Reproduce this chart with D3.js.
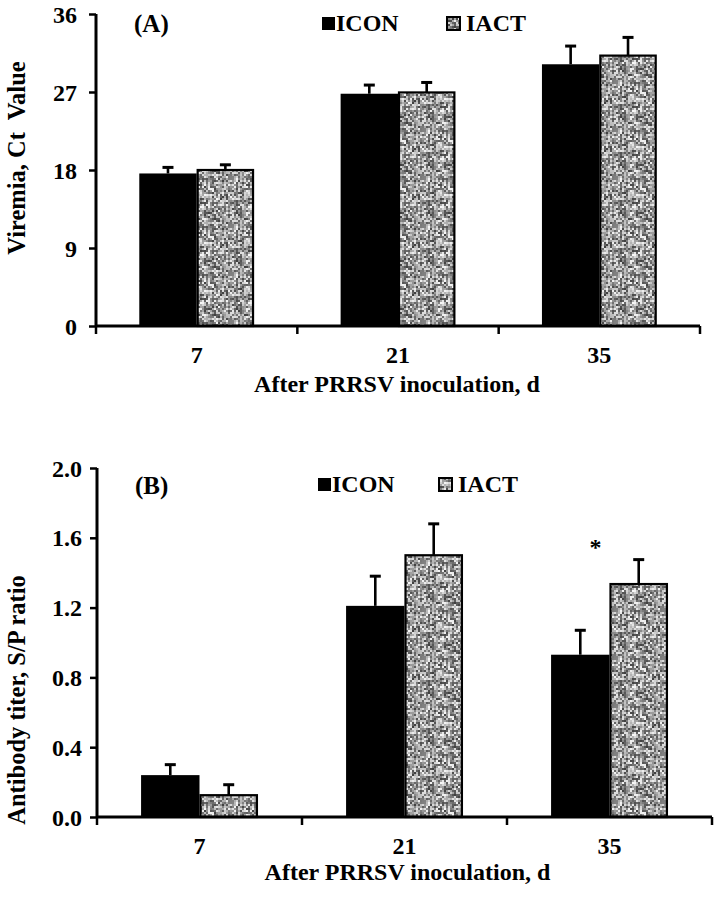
<!DOCTYPE html>
<html><head><meta charset="utf-8">
<script src="https://cdn.jsdelivr.net/npm/d3@7"></script>
<style>
body{margin:0;background:#fff}
svg{display:block}
text{font-family:"Liberation Serif","Times New Roman",serif;font-weight:bold;fill:#000}
</style>
</head><body><svg id="c" width="716" height="899"></svg>
<script>
// ---- data ----
const days = ["7", "21", "35"];
const seriesNames = ["ICON", "IACT"];
const viremiaICON = [17.6, 26.8, 30.2];
const viremiaICONse = [0.7, 1.0, 2.1];
const viremiaIACT = [18.0, 26.95, 31.2];
const viremiaIACTse = [0.6, 1.15, 2.1];
const viremiaTicks = [0, 9, 18, 27, 36];
const antibodyICON = [0.24, 1.21, 0.93];
const antibodyICONse = [0.06, 0.17, 0.14];
const antibodyIACT = [0.125, 1.50, 1.335];
const antibodyIACTse = [0.06, 0.18, 0.14];
const antibodyTicks = [0, 0.4, 0.8, 1.2, 1.6, 2.0];
const xTitle = "After PRRSV inoculation, d";

const svg = d3.select("#c");

// speckled gray texture for IACT bars
const defs = svg.append("defs");
const pat = defs.append("pattern").attr("id", "speckle")
  .attr("patternUnits", "userSpaceOnUse").attr("width", 48).attr("height", 48);
function hash(i, j) { const s = Math.sin(i * 127.1 + j * 311.7) * 43758.5453; return s - Math.floor(s); }
const cells = [];
for (let i = 0; i < 24; i++) for (let j = 0; j < 24; j++) cells.push([i, j]);
pat.selectAll("rect").data(cells).join("rect")
  .attr("x", d => d[0] * 2).attr("y", d => d[1] * 2).attr("width", 2).attr("height", 2)
  .attr("fill", d => { const g = Math.round(255 * (0.25 + 0.72 * hash(d[0], d[1]))); return `rgb(${g},${g},${g})`; });

function panel(cfg) {
  const g = svg.append("g");
  const x = d3.scaleBand().domain(days).range([cfg.x0, cfg.x1]).paddingInner(0.43).paddingOuter(0.215);
  const xs = d3.scaleBand().domain(seriesNames).range([0, x.bandwidth()]);
  const y = d3.scaleLinear().domain([0, cfg.max]).range([cfg.yb, cfg.yt]);

  const data = [];
  days.forEach((d, i) => {
    data.push({day: d, s: "ICON", v: cfg.icon[i], e: cfg.iconSe[i]});
    data.push({day: d, s: "IACT", v: cfg.iact[i], e: cfg.iactSe[i]});
  });

  // bars
  g.selectAll("rect.bar").data(data).join("rect").attr("class", "bar")
    .attr("x", d => x(d.day) + xs(d.s) + (d.s === "IACT" ? 1 : 0))
    .attr("width", d => xs.bandwidth() - (d.s === "IACT" ? 2 : 0))
    .attr("y", d => y(d.v))
    .attr("height", d => y(0) - y(d.v))
    .attr("fill", d => d.s === "ICON" ? "#000" : "url(#speckle)")
    .attr("stroke", d => d.s === "ICON" ? "none" : "#000")
    .attr("stroke-width", 2.2);

  // error bars (upper)
  g.selectAll("line.err").data(data).join("line").attr("class", "err")
    .attr("x1", d => x(d.day) + xs(d.s) + xs.bandwidth() / 2)
    .attr("x2", d => x(d.day) + xs(d.s) + xs.bandwidth() / 2)
    .attr("y1", d => y(d.v)).attr("y2", d => y(d.v + d.e))
    .attr("stroke", "#000").attr("stroke-width", 2.6);
  g.selectAll("line.cap").data(data).join("line").attr("class", "cap")
    .attr("x1", d => x(d.day) + xs(d.s) + xs.bandwidth() / 2 - 5.5)
    .attr("x2", d => x(d.day) + xs(d.s) + xs.bandwidth() / 2 + 5.5)
    .attr("y1", d => y(d.v + d.e)).attr("y2", d => y(d.v + d.e))
    .attr("stroke", "#000").attr("stroke-width", 3);

  // y axis
  const ya = g.append("g").attr("transform", `translate(${cfg.x0},0)`)
    .call(d3.axisLeft(y).tickValues(cfg.ticks).tickFormat(cfg.fmt).tickSize(7).tickPadding(cfg.tpad));
  ya.select(".domain").attr("stroke", "#000").attr("stroke-width", 3).attr("d", `M0,${cfg.yt}V${cfg.yb}`);
  ya.selectAll(".tick line").attr("stroke", "#000").attr("stroke-width", 2.5);
  ya.selectAll(".tick text").style("font-size", cfg.tickFont + "px").attr("dy", "0.34em");

  // x axis labels
  const xa = g.append("g").attr("transform", `translate(0,${cfg.yb})`)
    .call(d3.axisBottom(x).tickSize(0).tickPadding(20));
  xa.select(".domain").attr("stroke", "#000").attr("stroke-width", 3).attr("d", `M${cfg.x0},0H${cfg.x1}`);
  xa.selectAll(".tick text").style("font-size", cfg.tickFont + "px");
  // boundary tick marks
  const bounds = d3.range(days.length + 1).map(i => cfg.x0 + i * x.step());
  g.selectAll("line.bt").data(bounds).join("line").attr("class", "bt")
    .attr("x1", d => d).attr("x2", d => d)
    .attr("y1", cfg.yb).attr("y2", cfg.yb + 8)
    .attr("stroke", "#000").attr("stroke-width", 2.5);

  // titles
  g.append("text").attr("x", (cfg.x0 + cfg.x1) / 2 + cfg.xtDx).attr("y", cfg.yb + cfg.xtDy)
    .attr("text-anchor", "middle").style("font-size", "24px").text(xTitle);
  g.append("text").attr("transform", `translate(${cfg.ytX},${cfg.ytY}) rotate(-90)`)
    .attr("text-anchor", "middle").style("font-size", "24.5px").style("white-space", "pre").text(cfg.ytitle);
  g.append("text").attr("x", cfg.x0 + 38).attr("y", cfg.yt + cfg.panelDy)
    .style("font-size", "25px").text(cfg.panelLabel);

  // legend
  const lg = g.append("g");
  const lx = [cfg.legX[0], cfg.legX[1]];
  seriesNames.forEach((s, i) => {
    lg.append("rect").attr("x", lx[i]).attr("y", cfg.legY - 14).attr("width", 13).attr("height", 13)
      .attr("fill", s === "ICON" ? "#000" : "url(#speckle)")
      .attr("stroke", "#000").attr("stroke-width", s === "ICON" ? 0 : 2);
    lg.append("text").attr("x", lx[i] + (s === "ICON" ? 14 : 19)).attr("y", cfg.legY)
      .style("font-size", "24px").text(s);
  });

  if (cfg.star) {
    g.append("text").attr("x", x(cfg.star) + x.bandwidth() / 2 - 14).attr("y", cfg.starY)
      .attr("text-anchor", "middle").style("font-size", "24px").text("*");
  }
}

panel({
  x0: 96, x1: 700, yt: 14, yb: 326, max: 36, ticks: viremiaTicks, fmt: d3.format("d"), tpad: 12, tickFont: 24,
  icon: viremiaICON, iconSe: viremiaICONse, iact: viremiaIACT, iactSe: viremiaIACTse,
  xtDx: -1, xtDy: 66, ytX: 25, ytY: 158, ytitle: "Viremia, Ct  Value",
  panelLabel: "(A)", panelDy: 18, legX: [322, 447], legY: 31
});
panel({
  x0: 97, x1: 712, yt: 468, yb: 817, max: 2.0, ticks: antibodyTicks, fmt: d3.format(".1f"), tpad: 8, tickFont: 24,
  icon: antibodyICON, iconSe: antibodyICONse, iact: antibodyIACT, iactSe: antibodyIACTse,
  xtDx: 3, xtDy: 63, ytX: 25, ytY: 700, ytitle: "Antibody titer, S/P ratio",
  panelLabel: "(B)", panelDy: 26, legX: [318, 439], legY: 492, star: "35", starY: 555
});
</script>
</body></html>
